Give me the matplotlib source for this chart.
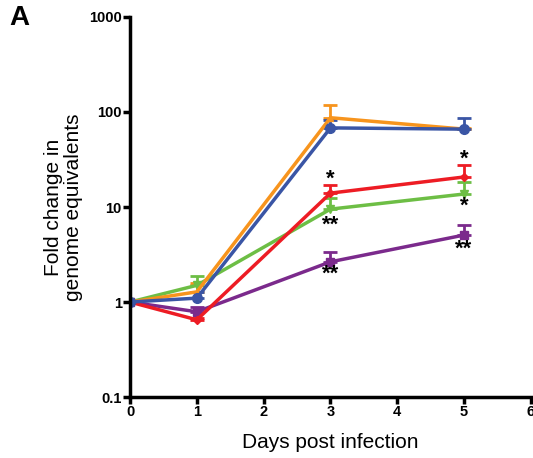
import numpy as np
import matplotlib
matplotlib.use('Agg')
import matplotlib.pyplot as plt

plt.rcParams['font.family'] = ['Liberation Sans', 'DejaVu Sans']

days = [0, 1, 3, 5]

# mean fold change and upper error bar value for each series
orange = [1.0, 1.28, 87, 66]
orange_top = [1.0, 1.58, 118, 68]
blue = [1.0, 1.1, 68, 66]
blue_top = [1.0, 1.27, 82, 87]
red = [1.0, 0.65, 14.0, 20.7]
red_top = [1.0, 0.68, 17.0, 27.6]
green = [1.0, 1.5, 9.5, 13.7]
green_top = [1.0, 1.89, 12.5, 18.3]
purple = [1.0, 0.79, 2.65, 5.07]
purple_top = [1.0, 0.89, 3.36, 6.4]

# significance marks: (day, value, text)
stars = [(3, 19.5, '*'), (3, 6.4, '**'), (3, 1.95, '**'),
         (5, 32, '*'), (5, 10.2, '*'), (5, 3.6, '**')]

series = [
    (green, green_top, '#6DBE45', 'v', 6),
    (purple, purple_top, '#7B2A8C', 's', 6),
    (red, red_top, '#ED1C24', 'D', 4),
    (orange, orange_top, '#F7941D', '^', 5),
    (blue, blue_top, '#3A55A5', 'o', 7),
]

fig = plt.figure(figsize=(5.33, 4.58), dpi=100)
ax = fig.add_axes([0.244, 0.133, 0.752, 0.830])

for vals, tops, col, mk, ms in series:
    vals = np.array(vals)
    up = np.array(tops) - vals
    ax.errorbar(days, vals, yerr=[np.zeros_like(up), up], color=col, marker=mk,
                markersize=ms, lw=2.5, elinewidth=2, capsize=5, capthick=2)

for d, v, s in stars:
    ax.text(d, v, s, ha='center', va='center', fontsize=16, fontweight='bold')

ax.set_yscale('log')
ax.set_ylim(0.1, 1000)
ax.set_xlim(0, 6)
ax.set_xticks(range(7))
ax.set_yticks([0.1, 1, 10, 100, 1000])
ax.set_yticklabels(['0.1', '1', '10', '100', '1000'])
ax.minorticks_off()
for sp in ['top', 'right']:
    ax.spines[sp].set_visible(False)
for sp in ['left', 'bottom']:
    ax.spines[sp].set_linewidth(2.5)
ax.tick_params(width=2.5, length=5, labelsize=10.5)
for lab in ax.get_xticklabels() + ax.get_yticklabels():
    lab.set_fontweight('bold')
ax.tick_params(axis='y', pad=1)
ax.tick_params(axis='x', pad=1)

ax.set_xlabel('Days post infection', fontsize=15, labelpad=10)
ax.set_ylabel('Fold change in\ngenome equivalents', fontsize=15, labelpad=4,
              linespacing=1.1)
fig.text(0.018, 0.945, 'A', fontsize=20, fontweight='bold')

fig.savefig('out.png', dpi=100)
